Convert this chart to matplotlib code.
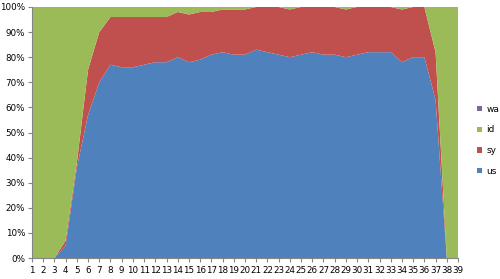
import numpy as np
import matplotlib
matplotlib.use('Agg')
import matplotlib.pyplot as plt
from matplotlib.patches import Patch
from matplotlib.ticker import PercentFormatter

# 数据（从图上读取，百分比）
samples = list(range(1, 40))
us = [0, 0, 0, 5, 36, 57, 70, 77, 76, 76, 77, 78, 78, 80, 78, 79, 81, 82, 81, 81,
      83, 82, 81, 80, 81, 82, 81, 81, 80, 81, 82, 82, 82, 78, 80, 80, 63, 0, 0]
sy = [0, 0, 0, 2, 2, 18, 20, 19, 20, 20, 19, 18, 18, 18, 19, 19, 17, 17, 18, 18,
      17, 18, 19, 19, 19, 18, 19, 19, 19, 19, 18, 18, 18, 21, 20, 20, 19, 0, 0]
wa = [0] * 39
id_ = [100 - a - b for a, b in zip(us, sy)]

series_names = ['us', 'sy', 'id', 'wa']
colors = ['#4F81BD', '#C0504D', '#9BBB59', '#8064A2']

fig = plt.figure(figsize=(5.0, 2.79), dpi=100)
ax = fig.add_axes([0.064, 0.075, 0.852, 0.9])

ax.stackplot(samples, us, sy, id_, wa, colors=colors, linewidth=0)

ax.set_xlim(1, 39)
ax.set_ylim(0, 100)
ax.set_yticks(np.arange(0, 101, 10))
ax.yaxis.set_major_formatter(PercentFormatter(decimals=0))
ax.set_xticks(samples)
ax.set_xticklabels([str(s) for s in samples])

ax.tick_params(axis='both', labelsize=6.3, length=3, color='#868686', pad=2)
ax.tick_params(axis='x', pad=3)
for side in ['top', 'right']:
    ax.spines[side].set_visible(False)
for side in ['left', 'bottom']:
    ax.spines[side].set_color('#868686')
    ax.spines[side].set_linewidth(0.8)

# 图例（顺序与原图一致）
legend_order = [3, 2, 1, 0]
handles = [Patch(facecolor=colors[i], edgecolor='none') for i in legend_order]
labels = [series_names[i] for i in legend_order]
fig.legend(handles, labels, loc='center left', bbox_to_anchor=(0.945, 0.497),
           frameon=False, fontsize=6.5, handlelength=0.55, handleheight=0.55,
           handletextpad=0.5, labelspacing=1.3, borderpad=0)

fig.savefig('out.png', dpi=100)
